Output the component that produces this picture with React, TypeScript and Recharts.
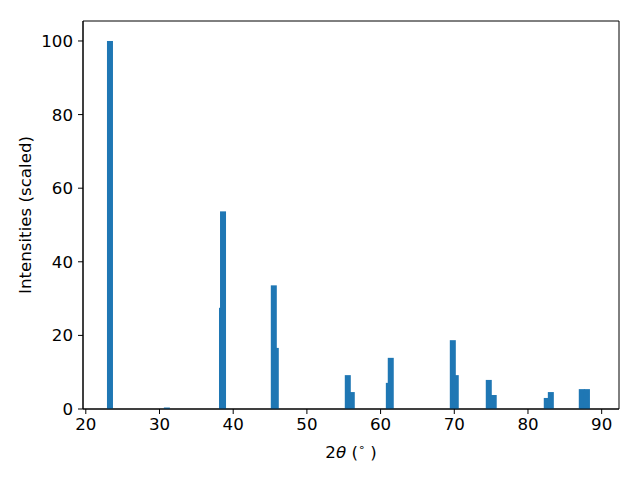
import React from 'react';
import { ComposedChart, Bar, XAxis, YAxis, Label, ReferenceArea } from 'recharts';

const twoTheta = [23.28, 31.0, 38.48, 38.62, 45.51, 45.78, 55.55, 56.09, 61.12, 61.38, 69.8, 70.2, 74.68, 75.35, 82.55, 83.1, 87.3, 88.0];
const intensity = [100, 0.4, 27.5, 53.7, 33.6, 16.6, 9.2, 4.6, 7.1, 13.9, 18.7, 9.2, 7.9, 3.8, 3.0, 4.6, 5.4, 5.4];
const xTicks = [20, 30, 40, 50, 60, 70, 80, 90];
const yTicks = [0, 20, 40, 60, 80, 100];

const data = twoTheta.map((t, i) => ({ theta: t, intensity: intensity[i] }));

const X_DOMAIN: [number, number] = [19.62, 92.35];
const Y_DOMAIN: [number, number] = [0, 105.43];
const FONT = 'DejaVu Sans';
const FS = 16.67;
const tickStyle = { fill: '#000', fontSize: FS, fontFamily: FONT };
const BAR_PX = 6;

const BarShape = (props: any) => {
  const { x, y, width, height, fill } = props;
  if (height == null || isNaN(height)) return null;
  const cx = x + width / 2;
  return <rect x={cx - BAR_PX / 2} y={y} width={BAR_PX} height={height} fill={fill} />;
};

export default function App() {
  return (
    <div style={{ position: 'absolute', left: 0, top: 0, width: 640, height: 480, background: '#fff' }}>
      <ComposedChart
        width={640}
        height={480}
        data={data}
        margin={{ top: 21, right: 21, bottom: 41, left: 0 }}
      >
        <XAxis
          xAxisId="b"
          type="number"
          dataKey="theta"
          domain={X_DOMAIN}
          ticks={xTicks}
          allowDataOverflow
          height={30}
          tickSize={5}
          tickMargin={4}
          stroke="#000"
          tick={tickStyle}
        >
          <Label
            content={() => (
              <text x={351} y={458} textAnchor="middle" fontFamily={FONT} fontSize={FS} fill="#000">
                <tspan>2</tspan>
                <tspan fontStyle="italic">θ</tspan>
                <tspan> (</tspan>
                <tspan fontSize={11} dy={-7}>∘</tspan>
                <tspan dy={7}> )</tspan>
              </text>
            )}
          />
        </XAxis>
        <YAxis
          yAxisId="l"
          type="number"
          domain={Y_DOMAIN}
          ticks={yTicks}
          allowDataOverflow
          width={83}
          tickSize={5}
          tickMargin={5}
          stroke="#000"
          tick={tickStyle}
        >
          <Label
            content={() => (
              <text
                x={31}
                y={215}
                textAnchor="middle"
                fontFamily={FONT}
                fontSize={FS}
                fill="#000"
                transform="rotate(-90 31 215)"
              >
                Intensities (scaled)
              </text>
            )}
          />
        </YAxis>
        <Bar
          xAxisId="b"
          yAxisId="l"
          dataKey="intensity"
          fill="#1f77b4"
          shape={BarShape}
          isAnimationActive={false}
        />
        <ReferenceArea
          xAxisId="b"
          yAxisId="l"
          x1={X_DOMAIN[0]}
          x2={X_DOMAIN[1]}
          y1={Y_DOMAIN[0]}
          y2={Y_DOMAIN[1]}
          fill="none"
          fillOpacity={0}
          stroke="#000"
          strokeWidth={1}
          ifOverflow="visible"
        />
      </ComposedChart>
    </div>
  );
}
